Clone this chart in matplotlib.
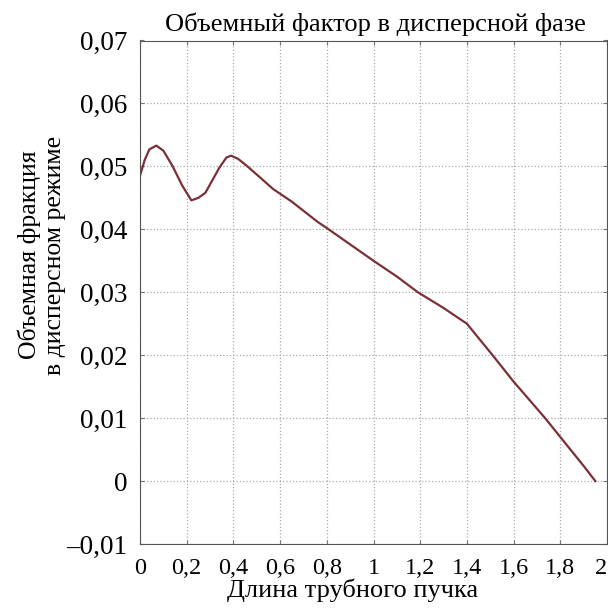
import matplotlib.pyplot as plt
import numpy as np
from matplotlib.ticker import FuncFormatter

# tube bundle length vs volume fraction
length = [0.0, 0.02, 0.04, 0.07, 0.10, 0.14, 0.18, 0.22, 0.25, 0.28, 0.31, 0.34, 0.37, 0.39,
          0.42, 0.46, 0.50, 0.57, 0.65, 0.76, 0.80, 0.90, 1.00, 1.10, 1.19, 1.30, 1.40,
          1.51, 1.60, 1.735, 1.80, 1.90, 1.95]
fraction = [0.0485, 0.0510, 0.0527, 0.0533, 0.0525, 0.0500, 0.0470, 0.0446, 0.0450, 0.0458, 0.0478,
            0.0498, 0.0514, 0.0517, 0.0512, 0.0500, 0.0487, 0.0464, 0.0444, 0.0412, 0.0402, 0.0376,
            0.0350, 0.0325, 0.0300, 0.0275, 0.0250, 0.0200, 0.0158, 0.0100, 0.0070, 0.0024, 0.0]

plt.rcParams['font.family'] = ['Liberation Serif', 'DejaVu Serif']

W = 608.0
fig = plt.figure(figsize=(6.08, 6.08), dpi=100)
ax = fig.add_axes([140 / W, 1 - 544 / W, 467 / W, 503.5 / W])
ax.plot(length, fraction, color='#7a3036', lw=1.6)

ax.set_xlim(0, 2)
ax.set_ylim(-0.01, 0.07)
ax.set_xticks(np.arange(0, 2.01, 0.2))
ax.set_yticks(np.arange(-0.01, 0.0701, 0.01))

def fmt(v, pos):
    s = ('%.2f' % v).rstrip('0').rstrip('.') if abs(v) > 1e-9 else '0'
    return s.replace('.', ',').replace('-', '–')

def fmty(v, pos):
    if abs(v) < 1e-9:
        return '0'
    return ('%.2f' % v).replace('.', ',').replace('-', '–')

ax.xaxis.set_major_formatter(FuncFormatter(fmt))
ax.yaxis.set_major_formatter(FuncFormatter(fmty))
ax.tick_params(direction='in', length=3, top=True, right=True, color='#777777')
ax.tick_params(axis='y', labelsize=19.5, pad=9)
ax.tick_params(axis='x', labelsize=17.5, pad=10)
ax.get_xticklabels()[-1].set_horizontalalignment('right')
ax.grid(True, color='#aaaaaa', linestyle=':', lw=0.9)
for s in ax.spines.values():
    s.set_color('#555555')

fig.text(375 / W, 1 - 24 / W, 'Объемный фактор в дисперсной фазе', fontsize=19,
         ha='center', va='center')
fig.text(353 / W, 1 - 590 / W, 'Длина трубного пучка', fontsize=19,
         ha='center', va='center')
fig.text(42 / W, 1 - 255 / W, 'Объемная фракция\nв дисперсном режиме', fontsize=18.5,
         ha='center', va='center', rotation=90, linespacing=1.15)

fig.savefig('out.png', dpi=100)
